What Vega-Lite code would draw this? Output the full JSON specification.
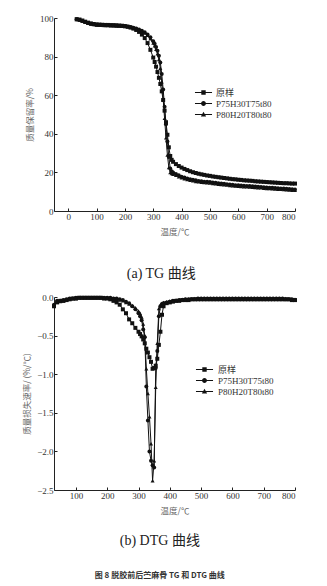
{
  "$schema": "https://vega.github.io/schema/vega-lite/v6.json",
  "background": "white",
  "padding": {"left": 22, "right": 5, "top": 14, "bottom": 5},
  "spacing": 12,
  "config": {
    "view": {"stroke": null},
    "font": "Liberation Serif, Noto Sans CJK SC",
    "axis": {
      "grid": false, "domainColor": "#222", "tickColor": "#222", "domainWidth": 1, "tickWidth": 1,
      "tickSize": -3, "labelPadding": 4, "labelColor": "#333", "labelFont": "Liberation Serif", "labelFontSize": 9,
      "titleFont": "Noto Sans CJK SC", "titleFontSize": 8.5, "titleFontWeight": "normal", "titleColor": "#666"
    },
    "legend": {
      "orient": "none", "title": null, "symbolSize": 121, "rowPadding": 0, "labelOffset": 7,
      "labelFont": "Liberation Serif, Noto Sans CJK SC", "labelFontSize": 9, "labelColor": "#333",
      "symbolStrokeWidth": 0, "symbolFillColor": "#111"
    }
  },
  "title": {"text": "图 8  脱胶前后苎麻骨 TG 和 DTG 曲线", "orient": "bottom", "font": "Noto Sans CJK SC", "fontSize": 8, "fontWeight": "bold", "color": "#333", "anchor": "middle", "frame": "bounds", "offset": 24},
  "datasets": {
    "tg": [
      {"t":30,"a":99.4,"b":99.3,"c":99.2},{"t":40,"a":99.2,"b":99.0,"c":98.9},{"t":50,"a":98.7,"b":98.5,"c":98.4},
      {"t":60,"a":98.1,"b":97.9,"c":97.8},{"t":70,"a":97.6,"b":97.4,"c":97.3},{"t":80,"a":97.2,"b":97.0,"c":96.9},
      {"t":90,"a":96.9,"b":96.7,"c":96.6},{"t":100,"a":96.7,"b":96.5,"c":96.4},{"t":110,"a":96.6,"b":96.4,"c":96.3},
      {"t":120,"a":96.5,"b":96.3,"c":96.2},{"t":130,"a":96.4,"b":96.3,"c":96.1},{"t":140,"a":96.4,"b":96.2,"c":96.1},
      {"t":150,"a":96.3,"b":96.2,"c":96.0},{"t":160,"a":96.3,"b":96.1,"c":96.0},{"t":170,"a":96.2,"b":96.1,"c":95.9},
      {"t":180,"a":96.1,"b":96.0,"c":95.9},{"t":190,"a":96.0,"b":95.9,"c":95.8},{"t":200,"a":95.8,"b":95.8,"c":95.6},
      {"t":210,"a":95.5,"b":95.6,"c":95.4},{"t":220,"a":95.1,"b":95.3,"c":95.1},{"t":230,"a":94.5,"b":95.0,"c":94.8},
      {"t":240,"a":93.8,"b":94.6,"c":94.4},{"t":250,"a":92.8,"b":94.1,"c":93.8},{"t":260,"a":91.4,"b":93.4,"c":93.1},
      {"t":270,"a":89.6,"b":92.6,"c":92.2},{"t":280,"a":87.0,"b":91.5,"c":91.0},{"t":290,"a":83.5,"b":90.0,"c":89.3},
      {"t":300,"a":79.5,"b":88.0,"c":87.0},{"t":305,"a":77.2,"b":86.7,"c":85.6},{"t":310,"a":74.8,"b":85.0,"c":83.8},
      {"t":315,"a":72.0,"b":83.0,"c":81.5},{"t":320,"a":69.0,"b":80.5,"c":78.5},{"t":325,"a":65.8,"b":77.0,"c":74.0},
      {"t":330,"a":62.0,"b":71.0,"c":67.0},{"t":335,"a":57.5,"b":63.0,"c":58.0},{"t":340,"a":52.0,"b":54.0,"c":48.0},
      {"t":345,"a":46.0,"b":45.0,"c":38.0},{"t":350,"a":39.5,"b":36.0,"c":29.0},{"t":355,"a":33.0,"b":28.0,"c":22.5},
      {"t":360,"a":28.5,"b":22.0,"c":20.0},{"t":365,"a":26.5,"b":20.6,"c":19.4},{"t":370,"a":25.5,"b":20.0,"c":19.0},
      {"t":380,"a":24.3,"b":19.2,"c":18.5},{"t":390,"a":23.3,"b":18.5,"c":17.8},{"t":400,"a":22.5,"b":17.8,"c":17.2},
      {"t":410,"a":21.8,"b":17.3,"c":16.7},{"t":420,"a":21.2,"b":16.9,"c":16.3},{"t":430,"a":20.6,"b":16.5,"c":15.9},
      {"t":440,"a":20.1,"b":16.2,"c":15.6},{"t":450,"a":19.7,"b":15.9,"c":15.3},{"t":460,"a":19.3,"b":15.6,"c":15.1},
      {"t":470,"a":19.0,"b":15.4,"c":14.9},{"t":480,"a":18.7,"b":15.2,"c":14.7},{"t":490,"a":18.4,"b":15.1,"c":14.6},
      {"t":500,"a":18.2,"b":15.0,"c":14.5},{"t":510,"a":17.9,"b":14.8,"c":14.3},{"t":520,"a":17.7,"b":14.6,"c":14.1},
      {"t":530,"a":17.5,"b":14.4,"c":13.9},{"t":540,"a":17.3,"b":14.2,"c":13.7},{"t":550,"a":17.1,"b":14.1,"c":13.6},
      {"t":560,"a":16.9,"b":13.9,"c":13.4},{"t":570,"a":16.7,"b":13.7,"c":13.2},{"t":580,"a":16.5,"b":13.6,"c":13.1},
      {"t":590,"a":16.4,"b":13.4,"c":12.9},{"t":600,"a":16.2,"b":13.3,"c":12.8},{"t":610,"a":16.1,"b":13.2,"c":12.7},
      {"t":620,"a":15.9,"b":13.1,"c":12.6},{"t":630,"a":15.8,"b":13.0,"c":12.5},{"t":640,"a":15.7,"b":12.9,"c":12.4},
      {"t":650,"a":15.6,"b":12.8,"c":12.3},{"t":660,"a":15.4,"b":12.7,"c":12.2},{"t":670,"a":15.3,"b":12.6,"c":12.1},
      {"t":680,"a":15.2,"b":12.5,"c":12.0},{"t":690,"a":15.1,"b":12.3,"c":11.8},{"t":700,"a":15.0,"b":12.2,"c":11.7},
      {"t":710,"a":14.9,"b":12.1,"c":11.6},{"t":720,"a":14.8,"b":12.0,"c":11.5},{"t":730,"a":14.7,"b":11.9,"c":11.4},
      {"t":740,"a":14.6,"b":11.8,"c":11.3},{"t":750,"a":14.5,"b":11.7,"c":11.2},{"t":760,"a":14.4,"b":11.6,"c":11.1},
      {"t":770,"a":14.4,"b":11.5,"c":11.0},{"t":780,"a":14.3,"b":11.4,"c":10.9},{"t":790,"a":14.2,"b":11.3,"c":10.8},
      {"t":800,"a":14.2,"b":11.2,"c":10.7}
    ],
    "dtg": [
      {"t":30,"a":-0.12,"b":-0.10,"c":-0.11},{"t":40,"a":-0.07,"b":-0.05,"c":-0.06},{"t":50,"a":-0.05,"b":-0.05,"c":-0.06},
      {"t":60,"a":-0.05,"b":-0.04,"c":-0.05},{"t":70,"a":-0.04,"b":-0.03,"c":-0.04},{"t":80,"a":-0.03,"b":-0.02,"c":-0.03},
      {"t":90,"a":-0.02,"b":-0.02,"c":-0.02},{"t":100,"a":-0.02,"b":-0.01,"c":-0.02},{"t":110,"a":-0.01,"b":-0.01,"c":-0.01},
      {"t":120,"a":-0.01,"b":-0.01,"c":-0.01},{"t":130,"a":-0.01,"b":-0.01,"c":-0.01},{"t":140,"a":-0.01,"b":-0.01,"c":-0.01},
      {"t":150,"a":-0.01,"b":-0.01,"c":-0.01},{"t":160,"a":-0.01,"b":-0.01,"c":-0.01},{"t":170,"a":-0.01,"b":-0.01,"c":-0.01},
      {"t":180,"a":-0.01,"b":-0.01,"c":-0.01},{"t":190,"a":-0.02,"b":-0.01,"c":-0.01},{"t":200,"a":-0.02,"b":-0.01,"c":-0.01},
      {"t":210,"a":-0.03,"b":-0.01,"c":-0.02},{"t":220,"a":-0.05,"b":-0.02,"c":-0.02},{"t":230,"a":-0.07,"b":-0.02,"c":-0.03},
      {"t":240,"a":-0.10,"b":-0.03,"c":-0.04},{"t":250,"a":-0.16,"b":-0.04,"c":-0.05},{"t":260,"a":-0.21,"b":-0.06,"c":-0.07},
      {"t":270,"a":-0.29,"b":-0.08,"c":-0.09},{"t":280,"a":-0.34,"b":-0.12,"c":-0.11},{"t":290,"a":-0.40,"b":-0.16,"c":-0.14},
      {"t":300,"a":-0.45,"b":-0.21,"c":-0.18},{"t":305,"a":-0.48,"b":-0.25,"c":-0.21},{"t":310,"a":-0.51,"b":-0.30,"c":-0.26},
      {"t":315,"a":-0.55,"b":-0.42,"c":-0.35},{"t":320,"a":-0.60,"b":-0.52,"c":-0.50},{"t":325,"a":-0.67,"b":-1.16,"c":-0.93},
      {"t":330,"a":-0.72,"b":-1.60,"c":-1.25},{"t":335,"a":-0.78,"b":-2.00,"c":-1.55},{"t":340,"a":-0.84,"b":-2.12,"c":-1.90},
      {"t":345,"a":-0.93,"b":-2.18,"c":-2.38},{"t":350,"a":-0.92,"b":-2.21,"c":-2.12},{"t":355,"a":-0.89,"b":-0.92,"c":-1.17},
      {"t":360,"a":-0.80,"b":-0.70,"c":-0.60},{"t":365,"a":-0.62,"b":-0.25,"c":-0.15},{"t":370,"a":-0.45,"b":-0.12,"c":-0.10},
      {"t":375,"a":-0.23,"b":-0.09,"c":-0.08},{"t":380,"a":-0.12,"b":-0.08,"c":-0.07},{"t":390,"a":-0.08,"b":-0.07,"c":-0.06},
      {"t":400,"a":-0.07,"b":-0.06,"c":-0.05},{"t":410,"a":-0.06,"b":-0.05,"c":-0.05},{"t":420,"a":-0.05,"b":-0.05,"c":-0.04},
      {"t":430,"a":-0.05,"b":-0.04,"c":-0.04},{"t":440,"a":-0.04,"b":-0.04,"c":-0.03},{"t":450,"a":-0.04,"b":-0.03,"c":-0.03},
      {"t":460,"a":-0.04,"b":-0.03,"c":-0.03},{"t":470,"a":-0.03,"b":-0.03,"c":-0.03},{"t":480,"a":-0.03,"b":-0.03,"c":-0.02},
      {"t":490,"a":-0.03,"b":-0.02,"c":-0.02},{"t":500,"a":-0.03,"b":-0.02,"c":-0.02},{"t":510,"a":-0.03,"b":-0.02,"c":-0.02},
      {"t":520,"a":-0.03,"b":-0.02,"c":-0.02},{"t":530,"a":-0.03,"b":-0.02,"c":-0.02},{"t":540,"a":-0.03,"b":-0.02,"c":-0.02},
      {"t":550,"a":-0.03,"b":-0.02,"c":-0.02},{"t":560,"a":-0.03,"b":-0.02,"c":-0.02},{"t":570,"a":-0.03,"b":-0.02,"c":-0.02},
      {"t":580,"a":-0.03,"b":-0.02,"c":-0.02},{"t":590,"a":-0.03,"b":-0.02,"c":-0.02},{"t":600,"a":-0.03,"b":-0.02,"c":-0.02},
      {"t":610,"a":-0.03,"b":-0.02,"c":-0.02},{"t":620,"a":-0.03,"b":-0.02,"c":-0.02},{"t":630,"a":-0.03,"b":-0.02,"c":-0.02},
      {"t":640,"a":-0.03,"b":-0.02,"c":-0.02},{"t":650,"a":-0.03,"b":-0.02,"c":-0.02},{"t":660,"a":-0.03,"b":-0.02,"c":-0.02},
      {"t":670,"a":-0.03,"b":-0.02,"c":-0.02},{"t":680,"a":-0.03,"b":-0.02,"c":-0.02},{"t":690,"a":-0.03,"b":-0.02,"c":-0.02},
      {"t":700,"a":-0.03,"b":-0.02,"c":-0.02},{"t":710,"a":-0.03,"b":-0.02,"c":-0.02},{"t":720,"a":-0.03,"b":-0.02,"c":-0.02},
      {"t":730,"a":-0.03,"b":-0.02,"c":-0.02},{"t":740,"a":-0.03,"b":-0.02,"c":-0.02},{"t":750,"a":-0.03,"b":-0.02,"c":-0.02},
      {"t":760,"a":-0.03,"b":-0.02,"c":-0.02},{"t":770,"a":-0.03,"b":-0.03,"c":-0.02},{"t":780,"a":-0.03,"b":-0.03,"c":-0.03},
      {"t":790,"a":-0.04,"b":-0.03,"c":-0.03},{"t":800,"a":-0.04,"b":-0.04,"c":-0.03}
    ]
  },
  "vconcat": [
    {
      "width": 241, "height": 193,
      "title": {"text": "(a) TG 曲线", "orient": "bottom", "font": "Liberation Serif, Noto Sans CJK SC", "fontSize": 14, "fontWeight": "normal", "color": "#222", "anchor": "middle", "frame": "bounds", "offset": 31},
      "data": {"name": "tg"},
      "transform": [{"fold": ["a", "b", "c"], "as": ["s", "v"]}],
      "encoding": {
        "x": {"field": "t", "type": "quantitative", "scale": {"domain": [-50, 800], "nice": false}, "axis": {"values": [0,100,200,300,400,500,600,700,800], "title": "温度/℃", "titlePadding": 6}},
        "y": {"field": "v", "type": "quantitative", "scale": {"domain": [0, 100], "nice": false}, "axis": {"values": [0,20,40,60,80,100], "title": "质量保留率/%", "titlePadding": 5}}
      },
      "layer": [
        {"mark": {"type": "line", "color": "#111", "strokeWidth": 1}, "encoding": {"detail": {"field": "s"}}},
        {"mark": {"type": "point", "filled": true, "color": "#111", "size": 16, "opacity": 1},
         "encoding": {"shape": {"field": "s", "type": "nominal", "legend": null,
           "scale": {"domain": ["a", "b", "c"], "range": ["square", "circle", "triangle-up"]}}}},
        {"transform": [{"filter": "false"}],
         "mark": {"type": "point", "filled": true, "color": "#111", "opacity": 1},
         "encoding": {"shape": {"field": "s", "type": "nominal",
           "scale": {"domain": ["a", "b", "c"], "range": [
             "M-1.55,-0.09H1.55V0.09H-1.55ZM-0.4,-0.4H0.4V0.4H-0.4Z",
             "M-1.55,-0.09H1.55V0.09H-1.55ZM0.44,0A0.44,0.44 0 1,1 -0.44,0A0.44,0.44 0 1,1 0.44,0Z",
             "M-1.55,-0.09H1.55V0.09H-1.55ZM0,-0.52L0.48,0.36L-0.48,0.36Z"]},
           "legend": {"legendX": 144, "legendY": 69,
             "labelExpr": "datum.value == 'a' ? '原样' : datum.value == 'b' ? 'P75H30T75t80' : 'P80H20T80t80'"}}}}
      ],
      "resolve": {"scale": {"shape": "independent"}, "legend": {"shape": "independent"}}
    },
    {
      "width": 241, "height": 193,
      "title": {"text": "(b) DTG 曲线", "orient": "bottom", "font": "Liberation Serif, Noto Sans CJK SC", "fontSize": 14, "fontWeight": "normal", "color": "#222", "anchor": "middle", "frame": "bounds", "offset": 19},
      "data": {"name": "dtg"},
      "transform": [{"fold": ["a", "b", "c"], "as": ["s", "v"]}],
      "encoding": {
        "x": {"field": "t", "type": "quantitative", "scale": {"domain": [30, 800], "nice": false}, "axis": {"values": [100,200,300,400,500,600,700,800], "title": "温度/℃", "titlePadding": 6}},
        "y": {"field": "v", "type": "quantitative", "scale": {"domain": [-2.5, 0], "nice": false}, "axis": {"values": [-2.5,-2,-1.5,-1,-0.5,0], "format": ".1f", "title": "质量损失速率/ (%/℃)", "titlePadding": 5}}
      },
      "layer": [
        {"mark": {"type": "line", "color": "#111", "strokeWidth": 1}, "encoding": {"detail": {"field": "s"}}},
        {"mark": {"type": "point", "filled": true, "color": "#111", "size": 16, "opacity": 1},
         "encoding": {"shape": {"field": "s", "type": "nominal", "legend": null,
           "scale": {"domain": ["a", "b", "c"], "range": ["square", "circle", "triangle-up"]}}}},
        {"transform": [{"filter": "false"}],
         "mark": {"type": "point", "filled": true, "color": "#111", "opacity": 1},
         "encoding": {"shape": {"field": "s", "type": "nominal",
           "scale": {"domain": ["a", "b", "c"], "range": [
             "M-1.55,-0.09H1.55V0.09H-1.55ZM-0.4,-0.4H0.4V0.4H-0.4Z",
             "M-1.55,-0.09H1.55V0.09H-1.55ZM0.44,0A0.44,0.44 0 1,1 -0.44,0A0.44,0.44 0 1,1 0.44,0Z",
             "M-1.55,-0.09H1.55V0.09H-1.55ZM0,-0.52L0.48,0.36L-0.48,0.36Z"]},
           "legend": {"legendX": 145, "legendY": 67, "labelOffset": 8,
             "labelExpr": "datum.value == 'a' ? '原样' : datum.value == 'b' ? 'P75H30T75t80' : 'P80H20T80t80'"}}}}
      ],
      "resolve": {"scale": {"shape": "independent"}, "legend": {"shape": "independent"}}
    }
  ]
}
